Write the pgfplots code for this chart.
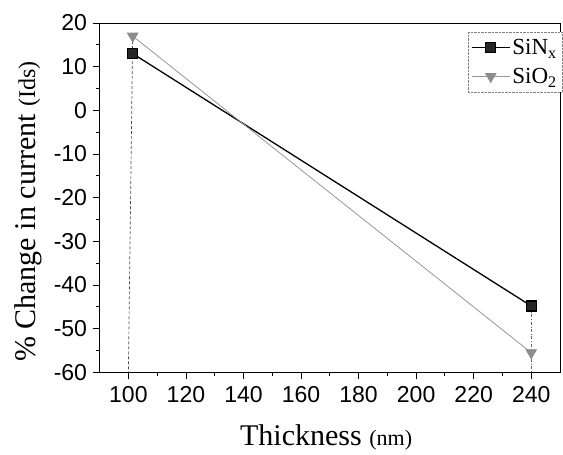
\documentclass[border=0pt]{standalone}
\usepackage{fontspec}
\setmainfont{Liberation Serif}
\setsansfont{Liberation Sans}
\usepackage{pgfplots}
\pgfplotsset{compat=1.18}

\definecolor{sioline}{RGB}{150,150,150}
\definecolor{siomark}{RGB}{140,140,140}

\begin{document}
\begin{tikzpicture}
\begin{axis}[
    name=main,
    scale only axis,
    width=460pt,
    height=349pt,
    xmin=90, xmax=250,
    ymin=-60, ymax=20,
    xtick={100,120,...,240},
    ytick={-60,-50,...,20},
    minor x tick num=1,
    minor y tick num=1,
    tick align=outside,
    xtick pos=left,
    ytick pos=left,
    major tick length=7pt,
    minor tick length=4pt,
    tick style={black, line width=0.8pt},
    axis line style={line width=0.9pt},
    /pgf/number format/assume math mode=true,
    ticklabel style={font=\sffamily\fontsize{23}{23}\selectfont},
    xticklabel style={yshift=-4pt},
    yticklabel style={xshift=-2pt},
    xlabel={\fontsize{30}{30}\selectfont Thickness {\fontsize{22}{22}\selectfont (nm)}},
    xlabel style={at={(axis description cs:0.492,-0.209)}, anchor=base},
    ylabel={\fontsize{30}{30}\selectfont \% Change in current {\fontsize{24}{24}\selectfont (Ids)}},
    ylabel style={at={(axis description cs:-0.140,0.46)}, anchor=base},
    legend cell align=left,
    legend style={
        at={(rel axis cs:1,0.974)}, anchor=north east, xshift=2pt,
        draw=gray, densely dotted,
        font=\fontsize{23}{23}\selectfont,
        row sep=8pt,
        inner xsep=3pt, inner ysep=5pt,
        nodes={solid}
    },
    legend image code/.code={
        \draw[mark repeat=2, mark phase=2, #1]
            plot coordinates {(0pt,0pt) (19pt,0pt) (38pt,0pt)};
    },
]

    % drop lines
    \addplot[black!70, densely dashed, line width=0.7pt, forget plot] coordinates {
        (101.5, 17) (100, -60)
    };
    \addplot[black!60, dash dot, line width=0.7pt, forget plot] coordinates {
        (240, -45) (240, -60)
    };

    \addplot[black, line width=1.3pt, mark=square*, mark size=5pt,
        mark options={solid, fill=black!85}] coordinates {
        (101.5, 13) (240, -44.8)
    };
    \addlegendentry{SiN\textsubscript{x}}

    \addplot[sioline, line width=0.8pt, mark=triangle*, mark size=6pt,
        mark options={solid, rotate=180, fill=siomark, draw=siomark}] coordinates {
        (101.5, 17) (240, -55.5)
    };
    \addlegendentry{SiO\textsubscript{2}}

\end{axis}
\pgfresetboundingbox
\path[use as bounding box] ([xshift=-99.5pt,yshift=-82pt]main.south west)
    rectangle ([xshift=3pt,yshift=23pt]main.north east);
\end{tikzpicture}
\end{document}
